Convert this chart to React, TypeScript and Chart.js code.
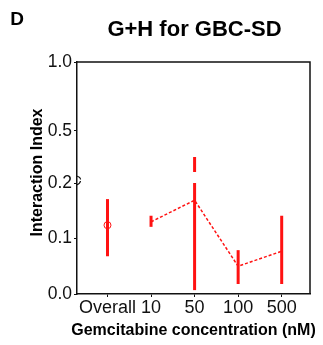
import React, { useEffect, useRef } from "react";
import { Chart, registerables } from "chart.js";

Chart.register(...registerables);

// ---- data ----
const categories = ["Overall", "10", "50", "100", "500"];
const means = [0.124, 0.130, 0.169, 0.050, 0.077];
const lowers = [0.068, 0.121, 0.007, 0.018, 0.018];
const uppers = [0.171, 0.141, 0.309, 0.079, 0.141];
const yTickValues = [0.0, 0.1, 0.2, 0.5, 1.0];
const yTickLabels = ["0.0", "0.1", "0.2", "0.5", "1.0"];

const titleText = "G+H for GBC-SD";
const panelLabel = "D";
const xTitle = "Gemcitabine concentration (nM)";
const yTitle = "Interaction Index";

// ---- broken-axis transform (lower 0–0.2 stretched, upper 0.2–1.0 compressed) ----
const BREAK = 0.2;
const LOWER_K = 555;
const GAP = 11;
const UPPER_K = 137.5;
const toU = (v: number) => (v <= BREAK ? v * LOWER_K : BREAK * LOWER_K + GAP + (v - BREAK) * UPPER_K);
const U_MAX = toU(1.0);

const RED = "rgb(255,18,18)";
const FONT = "'Liberation Sans', Arial, Helvetica, sans-serif";

export default function App() {
  const ref = useRef<HTMLCanvasElement | null>(null);

  useEffect(() => {
    if (!ref.current) return;

    const errDatasets: any[] = [];
    categories.forEach((_, i) => {
      const lo = lowers[i];
      const hi = uppers[i];
      const segs: [number, number][] = [];
      if (lo < BREAK && hi > BREAK) {
        segs.push([toU(lo), BREAK * LOWER_K]);
        segs.push([BREAK * LOWER_K + GAP, toU(hi)]);
      } else {
        segs.push([toU(lo), toU(hi)]);
      }
      segs.forEach(([a, b]) => {
        errDatasets.push({
          data: [
            { x: i, y: a },
            { x: i, y: b },
          ],
          borderColor: RED,
          borderWidth: 3,
          pointRadius: 0,
          borderCapStyle: "butt",
        });
      });
    });

    const lineData = categories
      .map((_, i) => ({ x: i, y: toU(means[i]) }))
      .filter((_, i) => i > 0);

    const decor = {
      id: "decor",
      afterDraw(chart: any) {
        const { ctx, chartArea } = chart;
        ctx.save();
        ctx.strokeStyle = "#111";
        ctx.lineWidth = 1.5;
        ctx.beginPath();
        ctx.moveTo(chartArea.left, chartArea.top);
        ctx.lineTo(chartArea.right, chartArea.top);
        ctx.lineTo(chartArea.right, chartArea.bottom);
        ctx.stroke();

        // axis break marks
        const ys = chart.scales.y;
        const yb = ys.getPixelForValue(BREAK * LOWER_K + GAP / 2) + 3;
        const x0 = chartArea.left;
        ctx.lineWidth = 1.2;
        ctx.beginPath();
        ctx.moveTo(x0 - 0.5, yb - 4.5);
        ctx.quadraticCurveTo(x0 + 3.5, yb - 3.5, x0 + 3.5, yb - 1);
        ctx.stroke();
        ctx.beginPath();
        ctx.moveTo(x0 + 3.5, yb + 0.5);
        ctx.quadraticCurveTo(x0 + 3, yb + 3.5, x0 - 0.5, yb + 4.5);
        ctx.stroke();

        ctx.fillStyle = "#000";
        ctx.textAlign = "center";
        ctx.textBaseline = "middle";
        ctx.font = `bold 19px ${FONT}`;
        ctx.fillText(panelLabel, 17, 20);
        ctx.font = `bold 22px ${FONT}`;
        ctx.fillText(titleText, 194.5, 30);
        ctx.font = `bold 16px ${FONT}`;
        ctx.fillText(xTitle, 193.5, 331);
        ctx.save();
        ctx.translate(38, 172.5);
        ctx.rotate(-Math.PI / 2);
        ctx.fillText(yTitle, 0, 0);
        ctx.restore();
        ctx.restore();
      },
    };

    const chart = new Chart(ref.current, {
      type: "line",
      data: {
        datasets: [
          ...errDatasets,
          {
            data: lineData,
            borderColor: RED,
            borderWidth: 1.5,
            borderDash: [3, 2],
            pointRadius: 0,
          },
          {
            data: [{ x: 0, y: toU(means[0]) }],
            borderColor: RED,
            backgroundColor: "rgba(0,0,0,0)",
            borderWidth: 1,
            pointRadius: 3.5,
            showLine: false,
          },
        ],
      },
      options: {
        animation: false,
        responsive: false,
        devicePixelRatio: 1,
        layout: { padding: { top: 62, left: 0, right: 13, bottom: 0 } },
        plugins: { legend: { display: false }, tooltip: { enabled: false }, title: { display: false } },
        scales: {
          x: {
            type: "linear",
            min: -0.7,
            max: 4.65,
            afterBuildTicks: (s: any) => {
              s.ticks = categories.map((_, i) => ({ value: i }));
            },
            afterFit: (s: any) => {
              s.height = 51;
            },
            ticks: {
              callback: (v: any) => categories[v as number] ?? "",
              color: "#111",
              font: { family: FONT, size: 18 },
              padding: 0,
              maxRotation: 0,
              autoSkip: false,
            },
            grid: { display: true, drawOnChartArea: false, drawTicks: true, tickLength: 3, color: "#111", lineWidth: 1 },
            border: { display: true, color: "#111", width: 1.5 },
          },
          y: {
            type: "linear",
            min: 0,
            max: U_MAX,
            afterBuildTicks: (s: any) => {
              s.ticks = yTickValues.map((v) => ({ value: toU(v) }));
            },
            afterFit: (s: any) => {
              s.width = 77;
            },
            ticks: {
              callback: (v: any) => {
                const idx = yTickValues.findIndex((t) => Math.abs(toU(t) - (v as number)) < 0.01);
                return idx >= 0 ? yTickLabels[idx] : "";
              },
              color: "#111",
              font: { family: FONT, size: 17.5 },
              padding: 2,
              autoSkip: false,
            },
            grid: { display: true, drawOnChartArea: false, drawTicks: true, tickLength: 3, color: "#111", lineWidth: 1 },
            border: { display: true, color: "#111", width: 1.5 },
          },
        },
      },
      plugins: [decor],
    } as any);

    return () => chart.destroy();
  }, []);

  return (
    <div style={{ position: "absolute", left: 0, top: 0, width: 323, height: 345, background: "#fff" }}>
      <canvas ref={ref} width={323} height={345} style={{ display: "block" }} />
    </div>
  );
}
